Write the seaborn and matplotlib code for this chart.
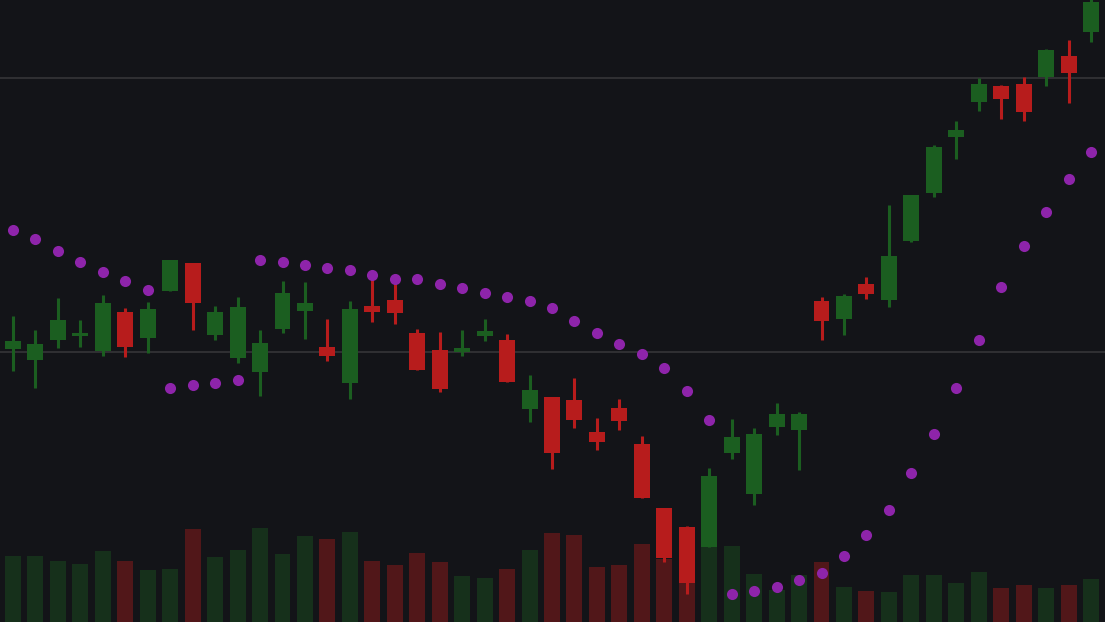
import numpy as np
import pandas as pd
import seaborn as sns
import matplotlib.pyplot as plt
from matplotlib.ticker import MultipleLocator

# daily bars
opens = [100.11, 99.71, 100.44, 100.58, 100.04, 101.46, 100.52, 102.24, 103.24, 100.62,
         99.79, 99.28, 100.84, 101.50, 100.18, 98.87, 101.68, 101.90, 100.69, 100.07,
         100.00, 100.58, 100.44, 97.92, 98.36, 98.25, 97.08, 97.96, 96.64, 94.31,
         93.60, 92.89, 96.32, 94.83, 97.27, 97.16, 101.86, 101.20, 102.48, 101.91,
         104.06, 105.81, 107.86, 109.14, 109.71, 109.78, 110.05, 110.80, 111.69]
highs = [101.31, 100.80, 101.97, 101.17, 102.08, 101.61, 101.82, 103.36, 103.24, 101.68,
         102.01, 100.80, 102.59, 102.55, 101.20, 101.86, 102.70, 102.59, 100.84, 100.73,
         100.80, 101.20, 100.66, 99.16, 98.36, 99.05, 97.59, 98.28, 96.93, 94.31,
         93.65, 95.77, 97.55, 97.23, 98.14, 97.81, 102.01, 102.12, 102.74, 105.36,
         105.73, 107.55, 108.43, 110.00, 109.74, 110.04, 111.06, 111.39, 112.90]
lows = [99.32, 98.70, 100.16, 100.19, 99.86, 99.83, 99.97, 102.24, 100.81, 100.44,
        99.61, 98.41, 100.70, 100.47, 99.67, 98.28, 101.11, 101.02, 99.33, 98.55,
        99.85, 100.41, 98.92, 97.45, 95.73, 97.24, 96.43, 97.16, 94.68, 92.35,
        91.18, 92.89, 96.11, 94.43, 96.98, 95.70, 100.44, 100.62, 101.93, 101.65,
        104.03, 105.67, 107.05, 108.81, 108.51, 108.44, 109.72, 109.10, 111.32]
closes = [100.40, 100.29, 101.17, 100.69, 101.79, 100.19, 101.57, 103.36, 101.78, 101.46,
          101.64, 100.32, 102.15, 101.79, 99.86, 101.57, 101.46, 101.43, 99.35, 98.66,
          100.15, 100.77, 98.92, 98.61, 96.33, 97.53, 96.73, 97.49, 94.68, 92.47,
          91.58, 95.47, 96.90, 97.01, 97.74, 97.74, 101.14, 102.04, 102.13, 103.50,
          105.73, 107.48, 108.10, 109.78, 109.24, 108.77, 111.02, 110.19, 112.77]
volumes = [1320, 1314, 1220, 1160, 1420, 1220, 1040, 1054, 1860, 1300,
           1440, 1874, 1360, 1726, 1660, 1800, 1220, 1140, 1380, 1206,
           920, 880, 1060, 1446, 1774, 1734, 1100, 1146, 1566, 1270,
           1400, 1500, 1520, 960, 640, 940, 1200, 700, 620, 600,
           940, 940, 786, 1006, 680, 734, 686, 740, 854]
# parabolic SAR
sar = [104.45, 104.12, 103.69, 103.28, 102.92, 102.59, 102.26, 98.69, 98.81, 98.88,
       98.98, 103.36, 103.30, 103.19, 103.08, 103.00, 102.81, 102.68, 102.68, 102.49,
       102.35, 102.16, 102.02, 101.87, 101.62, 101.14, 100.70, 100.30, 99.94, 99.43,
       98.59, 97.53, 91.17, 91.28, 91.42, 91.68, 91.93, 92.55, 93.32, 94.23,
       95.58, 97.01, 98.69, 100.44, 102.38, 103.88, 105.11, 106.31, 107.31]

BG = '#131418'
UP = '#1b5e20'
DOWN = '#b71c1c'
SAR_COLOR = '#8e24aa'


def plot_candles(df):
    fig = plt.figure(figsize=(11.05, 6.22), dpi=100, facecolor=BG)
    ax_vol = fig.add_axes([0, 0, 1, 1])
    ax = ax_vol.twinx()
    ax.set_zorder(ax_vol.get_zorder() + 1)
    ax.patch.set_visible(False)
    ax_vol.set_facecolor(BG)

    # volume underneath
    sns.barplot(data=df, x='idx', y='volume', hue='dir', palette={'up': UP, 'down': DOWN},
                native_scale=True, dodge=False, width=0.71, alpha=0.38, errorbar=None,
                legend=False, saturation=1, linewidth=0, ax=ax_vol)
    ax_vol.set_ylim(0, 12440)

    colors = np.where(df['dir'] == 'up', UP, DOWN)
    ax.vlines(df['idx'], df['low'], df['high'], colors=colors, linewidth=2.2, zorder=2)
    body_lo = np.minimum(df['open'], df['close'])
    body_h = (df['open'] - df['close']).abs()
    ax.bar(df['idx'], body_h, bottom=body_lo, width=0.71, color=colors, linewidth=0, zorder=3)

    sns.scatterplot(data=df, x='idx', y='sar', color=SAR_COLOR, s=64, linewidth=0,
                    zorder=4, ax=ax)

    ax.set_ylim(90.146, 112.847)
    ax.yaxis.set_major_locator(MultipleLocator(10))
    ax.grid(axis='y', color='#38383a', linewidth=1.1, zorder=0)
    ax.set_axisbelow(True)
    for a in (ax, ax_vol):
        a.set_xlim(-0.579, 48.623)
        a.set_xlabel('')
        a.set_ylabel('')
        a.tick_params(left=False, right=False, bottom=False,
                      labelleft=False, labelright=False, labelbottom=False)
        sns.despine(ax=a, left=True, bottom=True, right=True, top=True)
    plt.savefig('out.png', dpi=100, facecolor=BG)
    plt.clf()


def main():
    df = pd.DataFrame({'open': opens, 'high': highs, 'low': lows, 'close': closes,
                       'volume': volumes, 'sar': sar})
    df['idx'] = np.arange(len(df))
    df['dir'] = np.where(df['close'] >= df['open'], 'up', 'down')
    plot_candles(df)


if __name__ == "__main__":
    main()
